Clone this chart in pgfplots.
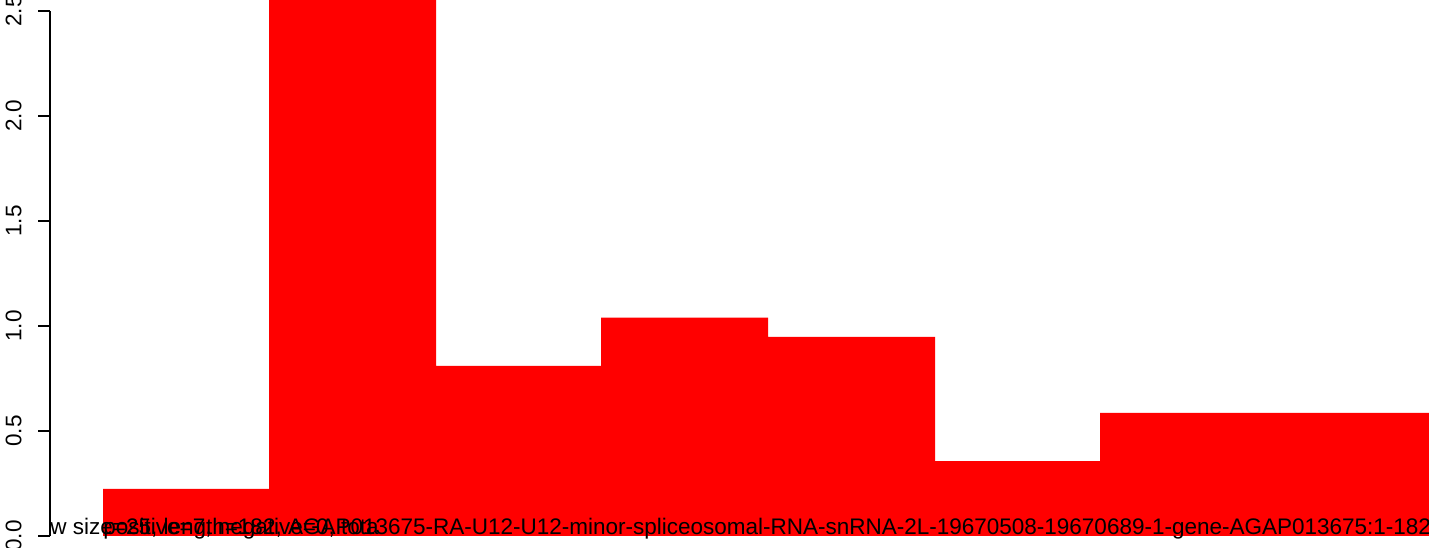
\documentclass[border=0pt]{standalone}
\usepackage{fontspec}
\setmainfont{Liberation Sans}
\usepackage{pgfplots}
\pgfplotsset{compat=1.18}

\begin{document}
\begin{tikzpicture}
\begin{axis}[
  name=ax,
  at={(0,0)}, anchor=south west,
  scale only axis, width=689.5pt, height=274pt,
  xmin=50, xmax=1429,
  ymin=-0.05714, ymax=2.5524,
  axis x line=none,
  axis y line=left,
  y axis line style={draw=none, -},
  ytick={0,0.5,1,1.5,2,2.5},
  tick align=outside,
  major tick length=6pt,
  tick style={black, line width=0.75pt},
  yticklabel style={rotate=90, anchor=south, inner sep=0pt, yshift=8pt,
    font=\fontsize{11.25}{13}\selectfont,
    /pgf/number format/fixed,
    /pgf/number format/fixed zerofill,
    /pgf/number format/precision=1,
    /pgf/number format/assume math mode=true},
  clip=false,
]

% bars, left edge of each interval -> height
\addplot[ybar interval, fill=red, draw=none] coordinates {
  (103,0.224) (269,2.6) (436,0.81) (601,1.04) (768,0.948)
  (935,0.357) (1100,0.586) (1266,0.586) (1432,0.586)
};

\draw[line width=0.75pt] (axis cs:50,0) -- (axis cs:50,2.5);

\node[anchor=base west, inner sep=0pt, font=\fontsize{11.25}{13}\selectfont]
  at (axis cs:50,0.008)
  {w size=25, length=182, AGAP013675-RA-U12-U12-minor-spliceosomal-RNA-snRNA-2L-19670508-19670689-1-gene-AGAP013675:1-182};
\node[anchor=base west, inner sep=0pt, font=\fontsize{11.25}{13}\selectfont]
  at (axis cs:103,0.008)
  {positive=7, negative=0, tota};
\end{axis}
\pgfresetboundingbox
\path[use as bounding box] ([xshift=-25pt]ax.south west) rectangle (ax.north east);
\end{tikzpicture}
\end{document}
